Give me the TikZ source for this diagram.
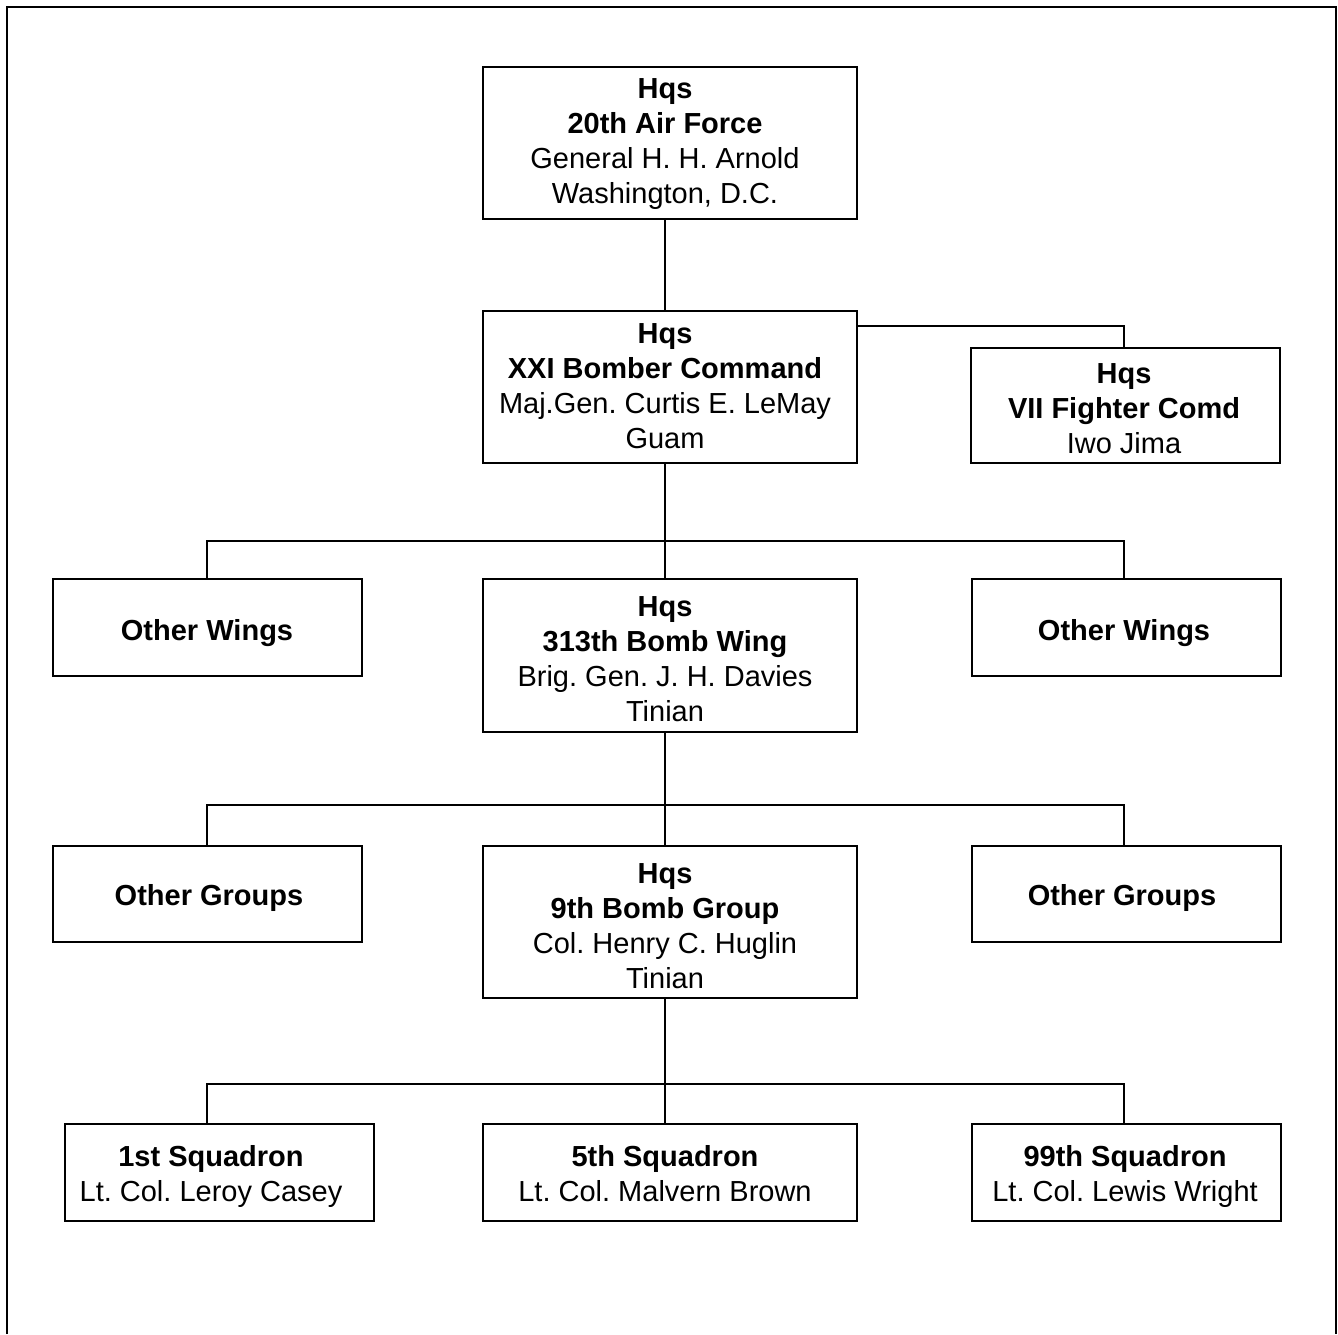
\documentclass[tikz,border=0pt]{standalone}
\usepackage{fontspec}
\setmainfont{Liberation Sans}
\frenchspacing
\begin{document}
\begin{tikzpicture}[x=1pt,y=-1pt,
  box/.style={draw=black,line width=2.5pt,fill=white,inner sep=0pt,outer sep=0pt,anchor=north west},
  txt/.style={inner sep=0pt,align=center,anchor=north,
    font=\fontsize{29}{35}\selectfont},
  conn/.style={draw=black,line width=2.5pt},
  frame/.style={draw=black,line width=2.2pt}]
\useasboundingbox (0,0) rectangle (1338,1334);
\draw[frame] (7,1334) -- (7,7) -- (1336,7) -- (1336,1334);

% boxes (top-left corner, size)
\node[box,minimum width=374pt,minimum height=152pt] (top) at (483,67) {};
\node[box,minimum width=374pt,minimum height=152pt] (xxi) at (483,311) {};
\node[box,minimum width=309pt,minimum height=115pt] (vii) at (971,348) {};
\node[box,minimum width=309pt,minimum height=97pt] (owL) at (53,579) {};
\node[box,minimum width=374pt,minimum height=153pt] (w313) at (483,579) {};
\node[box,minimum width=309pt,minimum height=97pt] (owR) at (972,579) {};
\node[box,minimum width=309pt,minimum height=96pt] (ogL) at (53,846) {};
\node[box,minimum width=374pt,minimum height=152pt] (g9) at (483,846) {};
\node[box,minimum width=309pt,minimum height=96pt] (ogR) at (972,846) {};
\node[box,minimum width=309pt,minimum height=97pt] (sq1) at (65,1124) {};
\node[box,minimum width=374pt,minimum height=97pt] (sq5) at (483,1124) {};
\node[box,minimum width=309pt,minimum height=97pt] (sq99) at (972,1124) {};

% texts (anchored at top of first line; first baseline = y + 24.5)
\node[txt] (top-t) at (665,73.5)
  {\strut\textbf{Hqs}\\\textbf{20th Air Force}\\General H. H. Arnold\\Washington, D.C.};
\node[txt] (xxi-t) at (665,318.5)
  {\strut\textbf{Hqs}\\\textbf{XXI Bomber Command}\\Maj.Gen. Curtis E. LeMay\\Guam};
\node[txt] (vii-t) at (1124,358.5)
  {\strut\textbf{Hqs}\\\textbf{VII Fighter Comd}\\Iwo Jima};
\node[txt] (owL-t) at (207,615.5) {\strut\textbf{Other Wings}};
\node[txt] (w313-t) at (665,591.5)
  {\strut\textbf{Hqs}\\\textbf{313th Bomb Wing}\\Brig. Gen. J. H. Davies\\Tinian};
\node[txt] (owR-t) at (1124,615.5) {\strut\textbf{Other Wings}};
\node[txt] (ogL-t) at (209,880.5) {\strut\textbf{Other Groups}};
\node[txt] (g9-t) at (665,858.5)
  {\strut\textbf{Hqs}\\\textbf{9th Bomb Group}\\Col. Henry C. Huglin\\Tinian};
\node[txt] (ogR-t) at (1122,880.5) {\strut\textbf{Other Groups}};
\node[txt] (sq1-t) at (211,1141.5)
  {\strut\textbf{1st Squadron}\\Lt. Col. Leroy Casey};
\node[txt] (sq5-t) at (665,1141.5)
  {\strut\textbf{5th Squadron}\\Lt. Col. Malvern Brown};
\node[txt] (sq99-t) at (1125,1141.5)
  {\strut\textbf{99th Squadron}\\Lt. Col. Lewis Wright};

% junction coordinates
\coordinate (j1) at (665,541);
\coordinate (j1L) at (207,541);
\coordinate (j1R) at (1124,541);
\coordinate (j2) at (665,805);
\coordinate (j2L) at (207,805);
\coordinate (j2R) at (1124,805);
\coordinate (j3) at (665,1084);
\coordinate (j3L) at (207,1084);
\coordinate (j3R) at (1124,1084);
\coordinate (f1) at (1124,326);

% connectors
\draw[conn] (top.south -| j1) -- (xxi.north -| j1);
\draw[conn] (xxi.east |- f1) -- (f1) -- (vii.north -| f1);
\draw[conn] (xxi.south -| j1) -- (w313.north -| j1);
\draw[conn] (owL.north -| j1L) -- (j1L) -- (j1R) -- (owR.north -| j1R);
\draw[conn] (w313.south -| j2) -- (g9.north -| j2);
\draw[conn] (ogL.north -| j2L) -- (j2L) -- (j2R) -- (ogR.north -| j2R);
\draw[conn] (g9.south -| j3) -- (sq5.north -| j3);
\draw[conn] (sq1.north -| j3L) -- (j3L) -- (j3R) -- (sq99.north -| j3R);
\end{tikzpicture}
\end{document}
